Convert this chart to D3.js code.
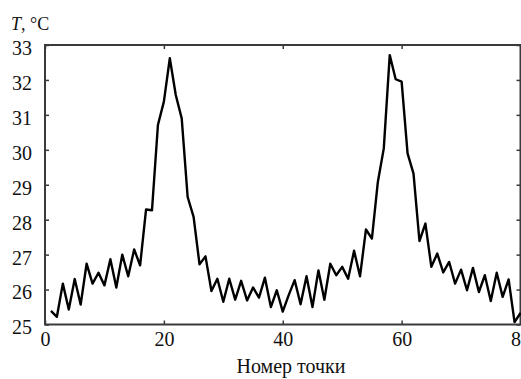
<!DOCTYPE html>
<html>
<head>
<meta charset="utf-8">
<script src="https://cdn.jsdelivr.net/npm/d3@7"></script>
</head>
<body style="margin:0">
<svg id="chart" width="521" height="379"></svg>
<script>
// Point numbers 1..80
const pointNumbers = [
  1,2,3,4,5,6,7,8,9,10,11,12,13,14,15,16,17,18,19,20,
  21,22,23,24,25,26,27,28,29,30,31,32,33,34,35,36,37,38,39,40,
  41,42,43,44,45,46,47,48,49,50,51,52,53,54,55,56,57,58,59,60,
  61,62,63,64,65,66,67,68,69,70,71,72,73,74,75,76,77,78,79,80
];
// Temperature, °C
const temperatures = [
  25.39, 25.22, 26.17, 25.43, 26.30, 25.57, 26.74, 26.17, 26.48, 26.12,
  26.87, 26.06, 27.00, 26.38, 27.15, 26.69, 28.29, 28.27, 30.71, 31.38,
  32.62, 31.57, 30.90, 28.65, 28.08, 26.72, 26.95, 25.96, 26.31, 25.65,
  26.31, 25.71, 26.25, 25.69, 26.06, 25.77, 26.34, 25.50, 25.98, 25.37,
  25.84, 26.27, 25.58, 26.38, 25.50, 26.55, 25.71, 26.74, 26.41, 26.65,
  26.31, 27.11, 26.38, 27.72, 27.46, 29.08, 30.04, 32.71, 32.02, 31.95,
  29.90, 29.32, 27.39, 27.89, 26.65, 27.03, 26.49, 26.79, 26.17, 26.57,
  25.98, 26.62, 25.93, 26.41, 25.67, 26.48, 25.79, 26.29, 25.07, 25.33
];
const xTicks = [0, 20, 40, 60, 80];
const yTicks = [25, 26, 27, 28, 29, 30, 31, 32, 33];
const xDomain = [0, 80];
const yDomain = [25, 33];
const xLabel = "Номер точки";

(function () {
const FONT = '"Liberation Serif"';
const svg = d3.select("#chart");
const mLeft = 45, mRight = 520.5, mTop = 45, mBottom = 324.5;

const x = d3.scaleLinear().domain(xDomain).range([mLeft, mRight]);
const y = d3.scaleLinear().domain(yDomain).range([mBottom, mTop]);

const frameColor = "#3a3a3a";
const tickLen = 4;

const gL = svg.append("g").attr("transform", `translate(${mLeft},0)`)
  .call(d3.axisLeft(y).tickValues(yTicks).tickFormat(d3.format("d"))
        .tickSizeInner(-tickLen).tickSizeOuter(0).tickPadding(13));
const gB = svg.append("g").attr("transform", `translate(0,${mBottom})`)
  .call(d3.axisBottom(x).tickValues(xTicks).tickFormat(d3.format("d"))
        .tickSizeInner(-tickLen).tickSizeOuter(0).tickPadding(7));
const gR = svg.append("g").attr("transform", `translate(${mRight},0)`)
  .call(d3.axisRight(y).tickValues(yTicks).tickFormat("")
        .tickSizeInner(-tickLen).tickSizeOuter(0));
const gT = svg.append("g").attr("transform", `translate(0,${mTop})`)
  .call(d3.axisTop(x).tickValues(xTicks).tickFormat("")
        .tickSizeInner(-tickLen).tickSizeOuter(0));

[gL, gB, gR, gT].forEach(g => {
  g.attr("font-family", null).attr("font-size", null);
  g.select(".domain").remove();
  g.selectAll(".tick line").attr("stroke", frameColor).attr("stroke-width", 1.5);
  g.selectAll(".tick text")
    .style("font-family", FONT).style("font-size", "20px").style("fill", "#111");
});
gL.selectAll(".tick text").attr("dy", "0.32em").attr("transform", "translate(0,3)");

svg.append("rect")
  .attr("x", mLeft).attr("y", mTop)
  .attr("width", mRight - mLeft).attr("height", mBottom - mTop)
  .attr("fill", "none").attr("stroke", frameColor).attr("stroke-width", 2);

const data = pointNumbers.map((n, i) => ({ n, t: temperatures[i] }));
svg.append("path")
  .datum(data)
  .attr("fill", "none")
  .attr("stroke", "#000")
  .attr("stroke-width", 2.4)
  .attr("stroke-linejoin", "round")
  .attr("d", d3.line().x(d => x(d.n)).y(d => y(d.t)));

svg.append("text")
  .attr("x", 291).attr("y", 373)
  .attr("text-anchor", "middle")
  .style("font-family", FONT).style("font-size", "20px").style("fill", "#111")
  .text(xLabel);

const yt = svg.append("text").attr("x", 11).attr("y", 29.5)
  .style("font-family", FONT).style("font-size", "18px").style("fill", "#111");
yt.append("tspan").style("font-style", "italic").text("T");
yt.append("tspan").text(", °C");
})();
</script>
</body>
</html>
